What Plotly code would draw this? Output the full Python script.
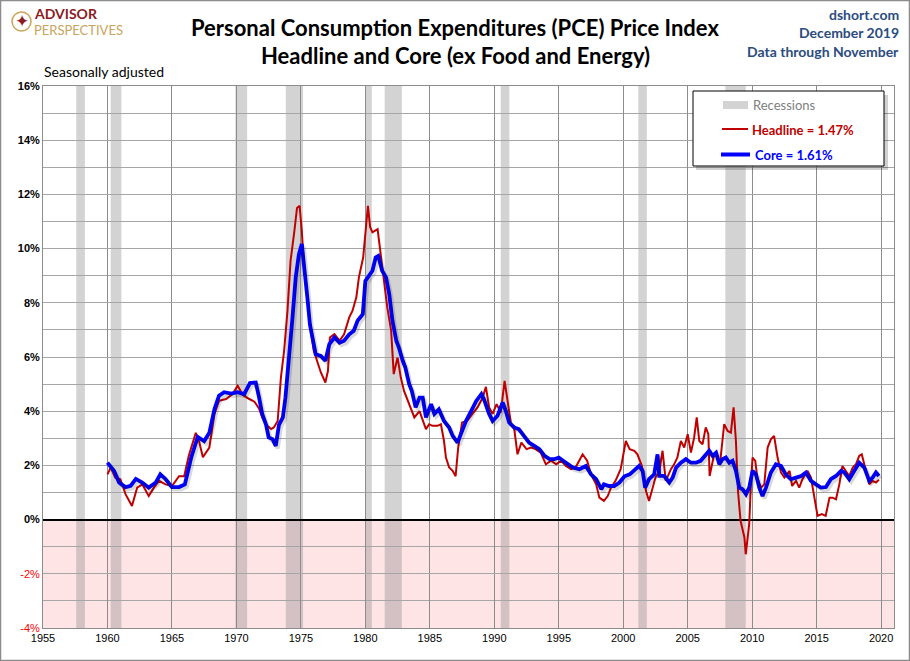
import plotly.graph_objects as go

# PCE year-over-year % change (decimal years)
headline_year = [1960.0, 1960.25, 1960.6, 1961.0, 1961.4, 1961.9, 1962.3, 1962.7, 1963.2, 1963.6,
                 1964.0, 1964.5, 1965.0, 1965.55, 1965.95, 1966.3, 1966.85, 1967.1, 1967.4, 1967.9,
                 1968.3, 1968.65, 1969.2, 1969.7, 1970.1, 1970.5, 1971.0, 1971.4, 1971.75, 1972.0,
                 1972.3, 1972.7, 1972.9, 1973.2, 1973.45, 1973.7, 1973.96, 1974.2, 1974.5, 1974.7,
                 1974.9, 1975.07, 1975.25, 1975.5, 1975.77, 1976.0, 1976.3, 1976.55, 1976.9, 1977.1,
                 1977.25, 1977.6, 1978.0, 1978.35, 1978.75, 1979.0, 1979.3, 1979.5, 1979.83, 1980.0,
                 1980.2, 1980.37, 1980.55, 1980.95, 1981.2, 1981.5, 1981.7, 1982.0, 1982.2, 1982.5,
                 1982.75, 1983.0, 1983.4, 1983.8, 1984.2, 1984.45, 1984.7, 1984.95, 1985.2, 1985.6,
                 1985.86, 1986.1, 1986.25, 1986.5, 1986.77, 1987.0, 1987.2, 1987.5, 1987.9, 1988.3,
                 1988.7, 1989.1, 1989.35, 1989.6, 1989.87, 1990.18, 1990.5, 1990.8, 1991.0, 1991.3,
                 1991.55, 1991.8, 1992.1, 1992.5, 1992.85, 1993.2, 1993.6, 1994.0, 1994.4, 1994.8,
                 1995.2, 1995.56, 1995.95, 1996.3, 1996.85, 1997.2, 1997.5, 1997.9, 1998.15, 1998.5,
                 1998.8, 1999.05, 1999.4, 1999.8, 2000.2, 2000.5, 2000.86, 2001.1, 2001.45, 2001.76,
                 2002.0, 2002.27, 2002.5, 2002.8, 2003.05, 2003.3, 2003.7, 2003.95, 2004.2, 2004.47,
                 2004.73, 2005.0, 2005.25, 2005.5, 2005.7, 2005.9, 2006.15, 2006.4, 2006.6, 2006.7,
                 2007.0, 2007.24, 2007.5, 2007.83, 2008.1, 2008.35, 2008.56, 2008.74, 2008.9, 2009.1,
                 2009.4, 2009.5, 2009.77, 2009.9, 2010.03, 2010.24, 2010.4, 2010.68, 2010.94, 2011.2,
                 2011.45, 2011.7, 2011.97, 2012.23, 2012.5, 2012.9, 2013.1, 2013.4, 2013.65, 2013.9,
                 2014.3, 2014.56, 2014.8, 2015.07, 2015.4, 2015.7, 2016.0, 2016.24, 2016.5, 2016.76,
                 2017.0, 2017.27, 2017.53, 2017.8, 2018.05, 2018.3, 2018.5, 2018.82, 2019.08, 2019.34,
                 2019.6, 2019.83]
headline_pct = [1.67, 1.92, 1.55, 1.49, 0.94, 0.5, 1.18, 1.3, 0.87, 1.18,
                1.43, 1.3, 1.24, 1.6, 1.6, 2.35, 3.2, 2.9, 2.3, 2.66,
                3.9, 4.38, 4.45, 4.63, 4.94, 4.6, 4.45, 4.35, 4.1, 3.77,
                3.5, 3.34, 3.4, 3.64, 5.24, 6.23, 7.7, 9.55, 10.66, 11.5,
                11.58, 10.66, 9.3, 8.07, 6.97, 6.23, 5.74, 5.43, 5.06, 5.49,
                6.72, 6.84, 6.6, 6.84, 7.46, 7.7, 8.2, 8.94, 9.67, 10.66,
                11.58, 10.8, 10.6, 10.72, 9.8, 8.69, 7.83, 6.97, 5.37, 5.98,
                5.24, 4.75, 4.26, 3.77, 4.0, 3.7, 3.34, 3.52, 3.46, 3.46,
                3.52, 2.9, 2.29, 1.92, 1.8, 1.6, 2.66, 3.58, 3.64, 3.9,
                4.14, 4.5, 4.9, 4.14, 3.9, 4.26, 3.95, 5.12, 4.44, 3.52,
                3.34, 2.41, 2.84, 2.6, 2.66, 2.6, 2.47, 2.04, 2.17, 2.04,
                2.17, 1.98, 1.86, 1.92, 2.41, 2.17, 1.67, 1.3, 0.81, 0.69,
                0.87, 1.18, 1.43, 1.86, 2.9, 2.6, 2.54, 2.41, 1.98, 1.06,
                0.69, 1.18, 1.55, 1.8, 2.54, 1.43, 1.86, 2.04, 2.29, 2.9,
                2.66, 3.15, 2.47, 3.03, 3.77, 2.9, 2.78, 3.4, 3.15, 1.61,
                2.29, 2.47, 2.04, 3.52, 3.27, 3.21, 4.14, 2.9, 1.06, -0.05,
                -0.66, -1.28, -0.17, 1.3, 2.29, 2.17, 1.55, 1.18, 1.3, 2.66,
                2.96, 3.09, 2.29, 1.74, 1.55, 1.8, 1.24, 1.43, 1.18, 1.49,
                1.8, 1.55, 0.81, 0.14, 0.2, 0.14, 0.81, 0.81, 0.75, 1.3,
                1.98, 1.8, 1.61, 1.92, 2.04, 2.35, 2.41, 1.8, 1.3, 1.43,
                1.37, 1.47]

core_year = [1960.0, 1960.5, 1960.9, 1961.4, 1961.8, 1962.2, 1962.7, 1963.2, 1963.75, 1964.1,
             1964.5, 1965.0, 1965.55, 1966.0, 1966.5, 1967.0, 1967.5, 1967.9, 1968.3, 1968.65,
             1969.05, 1969.6, 1970.1, 1970.6, 1971.05, 1971.5, 1971.76, 1972.0, 1972.3, 1972.5,
             1972.8, 1973.05, 1973.3, 1973.6, 1973.8, 1974.1, 1974.35, 1974.6, 1974.85, 1975.07,
             1975.25, 1975.5, 1975.7, 1975.9, 1976.15, 1976.55, 1976.9, 1977.2, 1977.6, 1978.0,
             1978.35, 1978.75, 1979.1, 1979.4, 1979.8, 1980.0, 1980.3, 1980.55, 1980.8, 1981.0,
             1981.3, 1981.6, 1981.85, 1982.1, 1982.4, 1982.6, 1982.9, 1983.1, 1983.4, 1983.6,
             1983.9, 1984.2, 1984.45, 1984.7, 1985.1, 1985.35, 1985.7, 1986.1, 1986.5, 1986.77,
             1987.15, 1987.4, 1987.8, 1988.2, 1988.6, 1989.0, 1989.2, 1989.6, 1989.87, 1990.25,
             1990.65, 1990.9, 1991.15, 1991.55, 1991.9, 1992.3, 1992.7, 1993.1, 1993.5, 1993.9,
             1994.3, 1994.65, 1995.0, 1995.56, 1996.1, 1996.6, 1997.1, 1997.5, 1997.9, 1998.3,
             1998.5, 1998.9, 1999.3, 1999.7, 2000.1, 2000.5, 2000.86, 2001.24, 2001.5, 2001.7,
             2002.0, 2002.4, 2002.66, 2002.8, 2003.18, 2003.57, 2003.83, 2004.1, 2004.47, 2004.86,
             2005.25, 2005.64, 2006.0, 2006.4, 2006.67, 2006.93, 2007.2, 2007.45, 2007.7, 2007.96,
             2008.22, 2008.48, 2008.74, 2009.0, 2009.26, 2009.52, 2009.77, 2010.03, 2010.29, 2010.55,
             2010.8, 2011.07, 2011.45, 2011.84, 2012.23, 2012.6, 2013.0, 2013.4, 2013.8, 2014.17,
             2014.56, 2014.95, 2015.33, 2015.72, 2016.1, 2016.5, 2016.9, 2017.15, 2017.53, 2017.92,
             2018.3, 2018.7, 2019.08, 2019.34, 2019.6, 2019.83]
core_pct = [2.1, 1.8, 1.37, 1.2, 1.25, 1.5, 1.37, 1.18, 1.37, 1.67,
            1.5, 1.2, 1.2, 1.3, 2.3, 3.05, 2.9, 3.2, 4.08, 4.57,
            4.7, 4.65, 4.7, 4.63, 5.04, 5.06, 4.5, 3.9, 3.5, 3.03,
            2.97, 2.72, 3.5, 3.77, 4.5, 5.98, 7.46, 8.94, 9.8, 10.17,
            9.43, 8.2, 7.2, 6.72, 6.1, 6.04, 5.86, 6.47, 6.72, 6.53,
            6.6, 6.84, 6.97, 7.34, 7.58, 8.81, 9.0, 9.18, 9.67, 9.73,
            9.18, 8.94, 8.32, 7.34, 6.6, 6.35, 5.86, 5.61, 5.0, 4.75,
            4.14, 4.5, 4.5, 3.77, 4.26, 3.9, 4.07, 3.64, 3.4, 3.09,
            2.84, 3.15, 3.64, 4.0, 4.38, 4.63, 4.44, 3.9, 3.64, 3.83,
            4.32, 4.0, 3.58, 3.4, 3.34, 3.09, 2.84, 2.72, 2.6, 2.35,
            2.23, 2.23, 2.29, 2.1, 1.92, 1.86, 1.98, 1.67, 1.49, 1.12,
            1.3, 1.24, 1.24, 1.37, 1.6, 1.67, 1.8, 1.98, 1.8, 1.18,
            1.49, 1.67, 2.41, 1.61, 1.61, 1.37, 1.55, 1.92, 2.1, 2.23,
            2.1, 2.1, 2.17, 2.41, 2.54, 2.35, 2.47, 2.04, 2.23, 2.29,
            2.1, 2.17, 1.8, 1.18, 1.12, 0.94, 1.18, 1.8, 1.67, 1.18,
            0.87, 1.18, 1.74, 2.04, 1.98, 1.67, 1.49, 1.55, 1.61, 1.74,
            1.43, 1.3, 1.18, 1.2, 1.49, 1.61, 1.8, 1.74, 1.49, 1.8,
            2.1, 1.92, 1.43, 1.55, 1.74, 1.61]

# NBER recessions
rec_start = [1957.58, 1960.25, 1969.92, 1973.83, 1980.0, 1981.5, 1990.5, 2001.17, 2007.92]
rec_end = [1958.25, 1961.08, 1970.83, 1975.17, 1980.5, 1982.83, 1991.17, 2001.83, 2009.5]

x_ticks = list(range(1955, 2021, 5))
y_ticks = list(range(-4, 17, 2))

legend_labels = ["Recessions", "Headline = 1.47%", "Core = 1.61%"]

W, H = 910, 661
L, R, T, B = 43, 16, 86, 33
X_RANGE = [1955, 2021.0]
Y_RANGE = [-4, 16]


def px(x):
    return (x - L) / (W - L - R)


def py(y):
    return (H - B - y) / (H - T - B)


fig = go.Figure()

# soft shadow under the core line (hidden overlaid axes, shifted a few pixels)
dx = 2.0 / ((W - L - R) / (X_RANGE[1] - X_RANGE[0]))
dy = 2.5 / ((H - T - B) / (Y_RANGE[1] - Y_RANGE[0]))
fig.add_trace(go.Scatter(x=core_year, y=core_pct, mode="lines", xaxis="x2", yaxis="y2",
                         line=dict(color="rgba(0,0,0,0.15)", width=4), showlegend=False, hoverinfo="skip"))

fig.add_trace(go.Scatter(x=headline_year, y=headline_pct, mode="lines", name="Headline",
                         line=dict(color="#C00000", width=2), showlegend=False))
fig.add_trace(go.Scatter(x=core_year, y=core_pct, mode="lines", name="Core",
                         line=dict(color="#0000FF", width=3.8), showlegend=False))

shapes = []
# pink area below zero
shapes.append(dict(type="rect", xref="paper", yref="y", x0=0, x1=1, y0=-4, y1=0,
                   fillcolor="#FFE4E6", line=dict(width=0), layer="below"))
for s, e in zip(rec_start, rec_end):
    shapes.append(dict(type="rect", xref="x", yref="y", x0=s, x1=e, y0=-4, y1=16,
                       fillcolor="rgba(128,128,128,0.35)", line=dict(width=0), layer="below"))

# legend box (drawn by hand) with a soft shadow
shapes.append(dict(type="rect", xref="paper", yref="paper", x0=px(696), x1=px(888), y0=py(170), y1=py(95),
                   fillcolor="rgba(0,0,0,0.18)", line=dict(width=0)))
shapes.append(dict(type="rect", xref="paper", yref="paper", x0=px(693), x1=px(884), y0=py(166), y1=py(91),
                   fillcolor="white", line=dict(color="black", width=1)))
shapes.append(dict(type="rect", xref="paper", yref="paper", x0=px(723), x1=px(748), y0=py(109), y1=py(101),
                   fillcolor="#D3D3D3", line=dict(width=0)))
shapes.append(dict(type="line", xref="paper", yref="paper", x0=px(722), x1=px(748), y0=py(129), y1=py(129),
                   line=dict(color="#C00000", width=2)))
shapes.append(dict(type="line", xref="paper", yref="paper", x0=px(721), x1=px(750), y0=py(154.5), y1=py(154.5),
                   line=dict(color="#0000FF", width=4)))

# outer frame
shapes.append(dict(type="rect", xref="paper", yref="paper", x0=px(0.5), x1=px(W - 0.5), y0=py(H - 0.5), y1=py(0.5),
                   line=dict(color="#8C8C8C", width=1.5), fillcolor="rgba(0,0,0,0)"))
# logo compass
shapes.append(dict(type="circle", xref="paper", yref="paper", x0=px(12), x1=px(31), y0=py(31), y1=py(12),
                   line=dict(color="#C9A45C", width=1.5), fillcolor="rgba(0,0,0,0)"))


def note(text, x, y, size, color, xanchor="center", bold=False, family="Lato, Open Sans, sans-serif"):
    if bold:
        text = "<b>%s</b>" % text
    return dict(text=text, x=px(x), y=py(y), xref="paper", yref="paper", xanchor=xanchor, yanchor="middle",
                showarrow=False, align=xanchor if xanchor != "center" else "center",
                font=dict(family=family, size=size, color=color))


annotations = [
    note("Personal Consumption Expenditures (PCE) Price Index", 455, 27, 22, "black", bold=True),
    note("Headline and Core (ex Food and Energy)", 455, 55, 22, "black", bold=True),
    note("dshort.com", 901, 14, 14, "#2B4C7E", xanchor="right", bold=True),
    note("December 2019", 901, 32.5, 14, "#2B4C7E", xanchor="right", bold=True),
    note("Data through November", 901, 51, 14, "#2B4C7E", xanchor="right", bold=True),
    note("Seasonally adjusted", 42, 72, 14, "black", xanchor="left"),
    note("ADVISOR", 32, 13.5, 14, "#8B1C23", xanchor="left", bold=True),
    note("PERSPECTIVES", 32, 30, 13, "#C9A45C", xanchor="left"),
    note("✦", 21.5, 21.5, 17, "#8B1C23", family="DejaVu Sans"),
    note(legend_labels[0], 751, 105, 13, "#808080", xanchor="left"),
    note(legend_labels[1], 750, 129.5, 13, "#C00000", xanchor="left", bold=True),
    note(legend_labels[2], 753, 155, 13, "#0000FF", xanchor="left", bold=True),
]

y_text = []
for v in y_ticks:
    if v < 0:
        y_text.append('<span style="color:#FF0000">%d%%</span>' % v)
    else:
        y_text.append("<b>%d%%</b>" % v)

fig.update_layout(
    width=W, height=H,
    margin=dict(l=L, r=R, t=T, b=B),
    paper_bgcolor="white", plot_bgcolor="white",
    font=dict(family="Liberation Sans, Arial, sans-serif", color="black"),
    showlegend=False,
    xaxis=dict(range=X_RANGE, tickvals=x_ticks, ticktext=[str(v) for v in x_ticks],
               showgrid=True, gridcolor="#8C8C8C", gridwidth=1,
               showline=True, linecolor="#8C8C8C", mirror=True, ticks="",
               tickfont=dict(size=11), zeroline=False),
    yaxis=dict(range=Y_RANGE, tickvals=y_ticks, ticktext=y_text,
               showgrid=True, gridcolor="#A6A6A6", gridwidth=1,
               minor=dict(dtick=1, tick0=0, showgrid=True, gridcolor="#A6A6A6", gridwidth=1),
               showline=True, linecolor="#8C8C8C", mirror=True, ticks="",
               tickfont=dict(size=11),
               zeroline=True, zerolinecolor="black", zerolinewidth=2),
    xaxis2=dict(range=[X_RANGE[0] - dx, X_RANGE[1] - dx], overlaying="x", visible=False),
    yaxis2=dict(range=[Y_RANGE[0] + dy, Y_RANGE[1] + dy], overlaying="y", visible=False),
    shapes=shapes,
    annotations=annotations,
)

fig.write_html("out.html", config={"displayModeBar": False},
               post_script="document.body.style.margin='0';")
